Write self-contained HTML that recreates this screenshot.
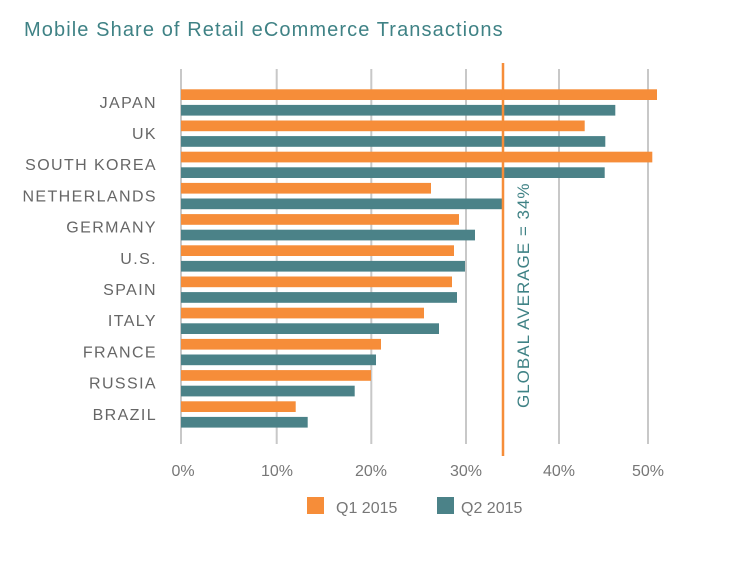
<!DOCTYPE html>
<html><head><style>
body{margin:0;background:#fff;width:743px;height:567px;overflow:hidden;position:relative;font-family:"Liberation Sans",sans-serif}
</style></head><body>
<svg width="743" height="567" xmlns="http://www.w3.org/2000/svg" style="position:absolute;left:0;top:0">
<text x="24" y="36" font-size="20" fill="#3f8285" letter-spacing="1.1">Mobile Share of Retail eCommerce Transactions</text>
<g stroke="#c8c8c8" stroke-width="2">
<line x1="181" y1="69" x2="181" y2="444"/><line x1="276.7" y1="69" x2="276.7" y2="444"/>
<line x1="371.3" y1="69" x2="371.3" y2="444"/><line x1="466" y1="69" x2="466" y2="444"/>
<line x1="559" y1="69" x2="559" y2="444"/><line x1="648" y1="69" x2="648" y2="444"/>
</g>
<g id="bars"></g>
<line x1="503" y1="63" x2="503" y2="456" stroke="#f68d39" stroke-width="2.5"/>
<text transform="translate(529,408) rotate(-90)" font-size="17" fill="#3f8285" letter-spacing="1.0">GLOBAL AVERAGE = 34%</text>
<g font-size="16" fill="#666" text-anchor="end" letter-spacing="1.4" id="labels"></g>
<g font-size="16" fill="#777" text-anchor="middle">
<text x="183" y="476">0%</text><text x="277" y="476">10%</text><text x="371" y="476">20%</text>
<text x="466" y="476">30%</text><text x="559" y="476">40%</text><text x="648" y="476">50%</text>
</g>
<rect x="307" y="497" width="17" height="17" fill="#f68d39"/>
<text x="336" y="513" font-size="16" fill="#777">Q1 2015</text>
<rect x="437" y="497" width="17" height="17" fill="#4b8288"/>
<text x="461" y="513" font-size="16" fill="#777">Q2 2015</text>
</svg>
<script>
var d=[["JAPAN",657,615.3],["UK",584.7,605.3],["SOUTH KOREA",652.3,604.7],["NETHERLANDS",431,502],["GERMANY",459,475],["U.S.",454,465],["SPAIN",452,457],["ITALY",424,439],["FRANCE",381,376],["RUSSIA",371,354.7],["BRAZIL",295.7,307.7]];
var b="",l="";
d.forEach(function(r,i){var y=89.3+31.2*i;
b+='<rect x="181" y="'+y+'" width="'+(r[1]-181)+'" height="10.7" fill="#f68d39"/>';
b+='<rect x="181" y="'+(y+15.6)+'" width="'+(r[2]-181)+'" height="10.7" fill="#4b8288"/>';
l+='<text x="157" y="'+(y+18.5)+'">'+r[0]+'</text>';});
document.getElementById("bars").innerHTML=b;document.getElementById("labels").innerHTML=l;
</script>
</body></html>
